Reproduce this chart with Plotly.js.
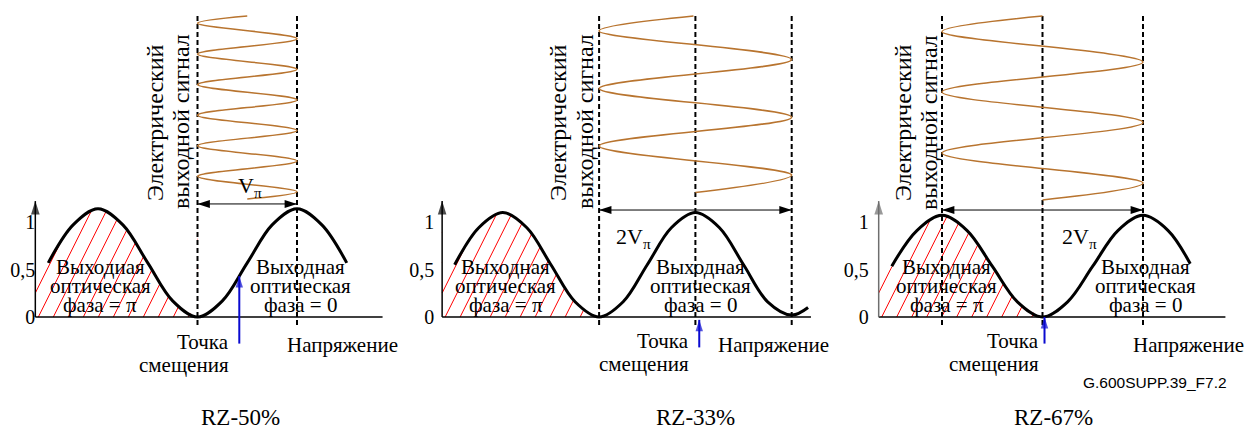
<!DOCTYPE html>
<html><head><meta charset="utf-8">
<script src="https://cdn.plot.ly/plotly-3.0.1.min.js"></script>
<style>html,body{margin:0;padding:0;background:#fff;}#chart{width:1246px;height:431px;}</style>
</head><body><div id="chart"></div>
<script>
// ================= DATA =================
const panelNames = ['RZ-50%', 'RZ-33%', 'RZ-67%'];
// transfer curve samples: voltage (units of Vπ) and normalized optical power
const curveV = [
  [-0.5,-0.25,0,0.25,0.5,0.75,1,1.25,1.5,1.75,2,2.25,2.5],
  [-0.5,-0.25,0,0.25,0.5,0.75,1,1.25,1.5,1.75,2,2.25,2.5,2.75,3,3.17],
  [-0.5,-0.25,0,0.25,0.5,0.75,1,1.25,1.5,1.75,2,2.25,2.47]
];
const curveI = [
  [0.57,0.97,1.14,0.97,0.57,0.17,0,0.17,0.57,0.97,1.14,0.97,0.57],
  [0.55,0.94,1.10,0.94,0.55,0.16,0,0.16,0.55,0.94,1.10,0.94,0.55,0.16,0.02,0.10],
  [0.535,0.91,1.07,0.91,0.535,0.16,0,0.16,0.535,0.91,1.07,0.91,0.56]
];
// hatched region (output phase = π): from the power axis to the first minimum
const hatchV = [
  [-0.63,-0.5,-0.25,0,0.25,0.5,0.75,1],
  [-0.63,-0.5,-0.25,0,0.25,0.5,0.75,1],
  [-0.63,-0.5,-0.25,0,0.25,0.5,0.75,1]
];
const hatchI = [
  [0.34,0.57,0.97,1.14,0.97,0.57,0.17,0],
  [0.33,0.55,0.94,1.10,0.94,0.55,0.16,0],
  [0.32,0.535,0.91,1.07,0.91,0.535,0.16,0]
];
const axisStartV = [-0.63, -0.63, -0.63];
const axisEndV = [2.86, 3.2, 2.82];
const axisTopI = 1.22;
const guideV = [[1, 2], [1, 2, 3], [0, 1, 2]];
// electrical drive signal: turning points (voltage) versus time (time runs downwards)
const driveV = [
  [1.5,1,2,1,2,1,2,1,2,1,2,1,2,1.5],
  [1.98,1,3,1,3,1,3,2.0],
  [1.0,0,2,0,2,0,2,1.0]
];
const driveT = [
  [0,0.040,0.125,0.209,0.293,0.377,0.461,0.545,0.629,0.713,0.797,0.881,0.965,1.005],
  [0,0.082,0.239,0.398,0.556,0.714,0.874,0.970],
  [0,0.086,0.253,0.418,0.585,0.753,0.918,1.011]
];
const swingStartV = [1, 1, 0];
const swingEndV = [2, 3, 2];
const swingLevel = [1.19, 1.126, 1.126];
const swingText = ['V<sub>π</sub>', '2V<sub>π</sub>', '2V<sub>π</sub>'];
const biasV = [1.42, 2.04, 1.02];
const biasTipI = [0.43, -0.03, 0];
const biasTailI = [-0.28, -0.32, -0.28];
const yTickVals = [0, 0.5, 1];
const yTickText = ['0', '0,5', '1'];
const leftPhase = [
  ['Выходиая', 'оптическая', 'фаза = π'],
  ['Выходная', 'оптическая', 'фаза = π'],
  ['Выходная', 'оптическая', 'фаза = π']
];
const rightPhase = ['Выходная', 'оптическая', 'фаза = 0'];
const driveLabel = ['Электрический', 'выходной сигнал'];
const biasLabel = ['Точка', 'смещения'];
const voltageLabel = 'Напряжение';
const figureCode = 'G.600SUPP.39_F7.2';

// ================= LAYOUT GEOMETRY =================
const W = 1246, H = 431;
const originPx = [98, 502.8, 942];     // pixel of V = 0 in each panel
const pxPerV = [99.5, 96.3, 100.5];
const basePx = 317, pxPerI = 95;
const timeTopPx = 16, pxPerT = 182;
const hatchTopI = 1.2, hatchGapPx = 15, hatchSlopePx = 2;
const SERIF = 'Times New Roman, serif';
const SANS = 'Arial, Liberation Sans, sans-serif';
const px = v => v / W;
const py = v => 1 - v / H;

const traces = [];
const annotations = [];
const layout = {
  width: W, height: H,
  margin: {l: 0, r: 0, t: 0, b: 0},
  paper_bgcolor: '#fff', plot_bgcolor: 'rgba(0,0,0,0)',
  showlegend: false, hovermode: false,
  font: {family: SERIF, color: '#000'}
};
const hidden = {showgrid: false, zeroline: false, showline: false, showticklabels: false, ticks: '', fixedrange: true};

for (let i = 0; i < 3; i++) {
  const xa = i === 0 ? 'x' : 'x' + (i + 1);
  const ya = i === 0 ? 'y' : 'y' + (i + 1);
  const xName = i === 0 ? 'xaxis' : 'xaxis' + (i + 1);
  const yName = i === 0 ? 'yaxis' : 'yaxis' + (i + 1);
  layout[xName] = Object.assign({}, hidden, {
    domain: [0, 1], anchor: 'y',
    range: [-originPx[i] / pxPerV[i], (W - originPx[i]) / pxPerV[i]]
  }, i ? {overlaying: 'x'} : {});
  const axisPx = originPx[i] + axisStartV[i] * pxPerV[i];
  layout[yName] = Object.assign({}, hidden, {
    domain: [0, 1], anchor: 'free', position: axisPx / W, side: 'left',
    range: [-(H - basePx) / pxPerI, basePx / pxPerI],
    showticklabels: true, tickvals: yTickVals, ticktext: yTickText,
    tickfont: {family: SERIF, size: 20, color: '#000'},
    ticklabelstandoff: [0, 8, 10][i]
  }, i ? {overlaying: 'y'} : {});

  // red hatching (straight strokes, trimmed above the curve by a white mask)
  const x0 = axisStartV[i], x1 = hatchV[i][hatchV[i].length - 1];
  const slope = hatchSlopePx * pxPerV[i] / pxPerI;   // dI/dV of a stroke
  const dv = hatchGapPx / pxPerV[i];
  const hx = [], hy = [];
  for (let vb = x0 - hatchTopI / slope; vb < x1; vb += dv) {
    let sv = vb, si = 0;
    if (sv < x0) { sv = x0; si = (x0 - vb) * slope; }
    let ev = vb + hatchTopI / slope, ei = hatchTopI;
    if (ev > x1) { ev = x1; ei = (x1 - vb) * slope; }
    if (si >= hatchTopI || ev <= sv) continue;
    hx.push(sv, ev, null); hy.push(si, ei, null);
  }
  traces.push({type: 'scatter', mode: 'lines', x: hx, y: hy, xaxis: xa, yaxis: ya,
    line: {color: '#ff0000', width: 1}, hoverinfo: 'skip'});
  traces.push({type: 'scatter', mode: 'lines', x: [x0, x1], y: [hatchTopI, hatchTopI], xaxis: xa, yaxis: ya,
    line: {width: 0, color: 'rgba(0,0,0,0)'}, hoverinfo: 'skip'});
  traces.push({type: 'scatter', mode: 'lines', x: hatchV[i], y: hatchI[i], xaxis: xa, yaxis: ya,
    fill: 'tonexty', fillcolor: '#ffffff',
    line: {width: 0, shape: 'spline', smoothing: 1, color: 'rgba(0,0,0,0)'}, hoverinfo: 'skip'});
  // guide dashed lines
  const gx = [], gy = [];
  guideV[i].forEach(v => { gx.push(v, v, null); gy.push(-(325 - basePx) / pxPerI, (basePx - 15) / pxPerI, null); });
  traces.push({type: 'scatter', mode: 'lines', x: gx, y: gy, xaxis: xa, yaxis: ya,
    line: {color: '#000', width: 2, dash: '5px,3px'}, hoverinfo: 'skip'});
  // horizontal voltage axis
  traces.push({type: 'scatter', mode: 'lines', x: [axisStartV[i], axisEndV[i]], y: [0, 0], xaxis: xa, yaxis: ya,
    line: {color: '#000', width: 1.5}, hoverinfo: 'skip'});
  // vertical power axis with arrow head
  const axCol = i === 2 ? '#6e6e6e' : '#000';
  traces.push({type: 'scatter', mode: 'lines+markers', x: [axisStartV[i], axisStartV[i]], y: [0, axisTopI],
    xaxis: xa, yaxis: ya, line: {color: axCol, width: 1.5}, cliponaxis: false,
    marker: {symbol: 'arrow', size: [0, 14], angle: [0, 0], color: axCol, line: {width: 0}}, hoverinfo: 'skip'});
  // transfer curve
  traces.push({type: 'scatter', mode: 'lines', x: curveV[i], y: curveI[i], xaxis: xa, yaxis: ya,
    line: {color: '#000', width: 3, shape: 'spline', smoothing: 1}, hoverinfo: 'skip'});
  // swing double arrow
  traces.push({type: 'scatter', mode: 'lines+markers', x: [swingStartV[i], swingEndV[i]], y: [swingLevel[i], swingLevel[i]],
    xaxis: xa, yaxis: ya, line: {color: '#000', width: 1}, cliponaxis: false,
    marker: {symbol: 'arrow', size: 13, angle: [-90, 90], color: '#000', line: {width: 0}}, hoverinfo: 'skip'});
  // bias point arrow
  traces.push({type: 'scatter', mode: 'lines+markers', x: [biasV[i], biasV[i]], y: [biasTailI[i], biasTipI[i]],
    xaxis: xa, yaxis: ya, line: {color: '#0a0ad0', width: 2}, cliponaxis: false,
    marker: {symbol: 'arrow', size: [0, 12], angle: [0, 0], color: '#0a0ad0', line: {width: 0}}, hoverinfo: 'skip'});
  // drive signal
  traces.push({type: 'scatter', mode: 'lines', x: driveV[i], y: driveT[i], xaxis: xa, yaxis: 'y4',
    line: {color: '#b8742f', width: 1.5, shape: 'spline', smoothing: 1}, hoverinfo: 'skip'});
}
layout.yaxis4 = Object.assign({}, hidden, {domain: [0, 1], anchor: 'x', overlaying: 'y',
  range: [(H - timeTopPx) / pxPerT, -timeTopPx / pxPerT]});

// ---------- text ----------
function txt(text, x, baseline, size, opts) {
  return Object.assign({xref: 'paper', yref: 'paper', x: px(x), y: py(baseline - 0.34 * size),
    text: text, showarrow: false, xanchor: 'center', yanchor: 'middle', borderpad: 0,
    font: {family: SERIF, size: size, color: '#000'}}, opts || {});
}
const leftX = [100, 506, 947], rightX = [300, 700, 1145];
const lineBase = [274, 293, 312];
const biasRight = [230, 690, 1040], biasBase = [[349, 372], [348, 371], [348, 371]];
const voltX = [342, 773, 1188];
const rotX = [[155, 181], [558, 585], [903, 929]];
const rotY = [123, 122];
const swingLabX = [250, 633, 1079], swingLabBase = [190, 241, 241];
const nameX = [240, 696, 1053];
for (let i = 0; i < 3; i++) {
  for (let k = 0; k < 3; k++) {
    annotations.push(txt(leftPhase[i][k], leftX[i], lineBase[k], 21));
    annotations.push(txt(rightPhase[k], rightX[i], lineBase[k], 21));
  }
  annotations.push(txt(biasLabel[0], biasRight[i], biasBase[i][0], 21, {xanchor: 'right'}));
  annotations.push(txt(biasLabel[1], biasRight[i], biasBase[i][1], 21, {xanchor: 'right'}));
  annotations.push(txt(voltageLabel, voltX[i], 352, 21));
  for (let k = 0; k < 2; k++) {
    annotations.push({xref: 'paper', yref: 'paper', x: px(rotX[i][k]), y: py(rotY[k]), text: driveLabel[k],
      textangle: -90, showarrow: false, xanchor: 'center', yanchor: 'middle', borderpad: 0,
      font: {family: SERIF, size: 24, color: '#000'}});
  }
  annotations.push(txt(swingText[i], swingLabX[i], swingLabBase[i] + 4, 22));
  annotations.push(txt(panelNames[i], nameX[i], 425.5, 23));
}
annotations.push({xref: 'paper', yref: 'paper', x: px(1155), y: py(388 - 5.4), text: figureCode,
  showarrow: false, xanchor: 'center', yanchor: 'middle', borderpad: 0,
  font: {family: SANS, size: 15.5, color: '#000'}});

layout.annotations = annotations;
Plotly.newPlot('chart', traces, layout, {staticPlot: true, displayModeBar: false});
</script></body></html>
